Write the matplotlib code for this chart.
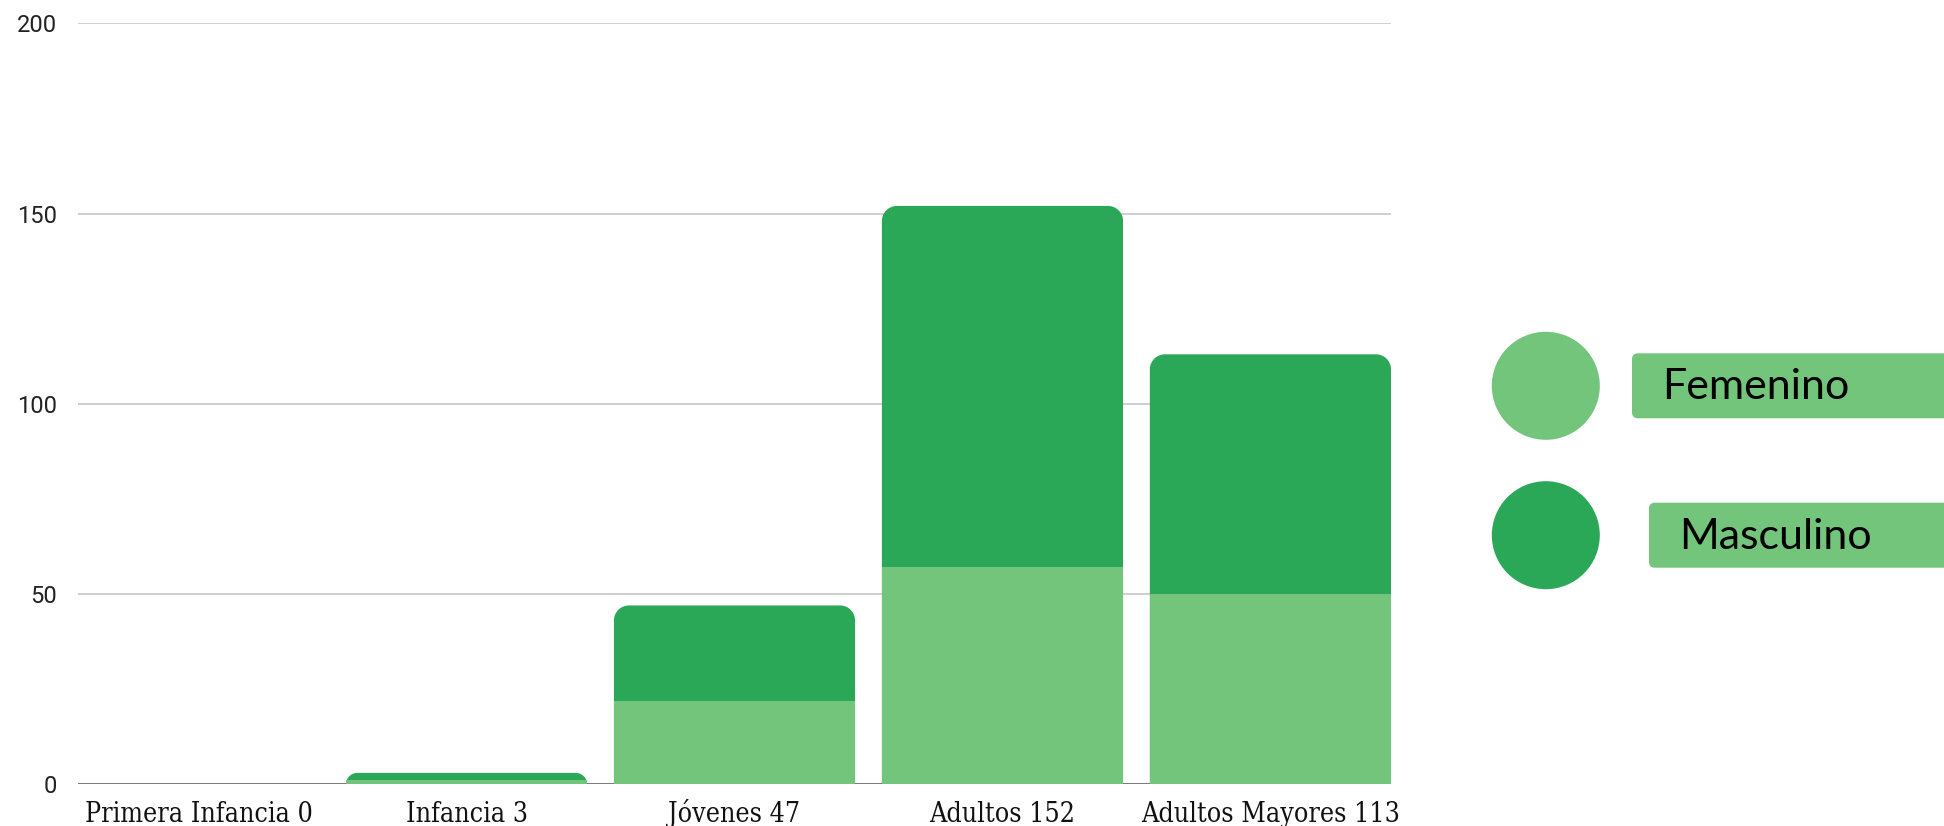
"""
plot.py
Poblacion por grupo de edad y sexo: barras apiladas con esquinas superiores redondeadas.
"""
import matplotlib
matplotlib.use("Agg")
from matplotlib import pyplot as plt
from matplotlib import font_manager
from matplotlib.path import Path
from matplotlib.patches import PathPatch, Circle, FancyBboxPatch
from matplotlib.textpath import TextPath

# Datos
categories = ['Primera Infancia', 'Infancia', 'Jóvenes', 'Adultos', 'Adultos Mayores']
femenino = [0, 1, 22, 57, 50]
masculino = [0, 2, 25, 95, 63]
series_names = ['Femenino', 'Masculino']
y_ticks = [0, 50, 100, 150, 200]

LIGHT_GREEN = '#72C57A'
DARK_GREEN = '#2AA757'

FIG_W, FIG_H, DPI = 1944, 826, 100
BAR_WIDTH = 0.9


def label_font():
    """
    Busca una serif condensada para las etiquetas del eje x; si no hay, usa Liberation Serif.
    """
    for entry in font_manager.fontManager.ttflist:
        if 'DejaVu Serif' in entry.name and entry.style == 'normal' and entry.weight in (400, 'normal'):
            if entry.stretch == 'condensed' or 'Condensed' in entry.name or 'Condensed' in entry.fname:
                return font_manager.FontProperties(fname=entry.fname)
    return font_manager.FontProperties(family='Liberation Serif')


def fit_size(text, prop, target_px):
    """
    Tamano de fuente (pt) para que el texto mida target_px de ancho.
    """
    width = TextPath((0, 0), text, size=1, prop=prop).get_extents().width
    return target_px * 72 / DPI / width


def rounded_top_bar(ax, x_center, width, top, radius_px, ux, uy, color):
    """
    Dibuja una barra desde 0 hasta top con las esquinas superiores redondeadas.
    """
    if top <= 0:
        return
    r = min(radius_px, top / uy)
    rx, ry = r * ux, r * uy
    k = 0.5523
    x0, x1 = x_center - width / 2, x_center + width / 2
    verts = [(x0, 0), (x0, top - ry),
             (x0, top - ry + k * ry), (x0 + rx - k * rx, top), (x0 + rx, top),
             (x1 - rx, top),
             (x1 - rx + k * rx, top), (x1, top - ry + k * ry), (x1, top - ry),
             (x1, 0), (x0, 0)]
    codes = [Path.MOVETO, Path.LINETO,
             Path.CURVE4, Path.CURVE4, Path.CURVE4,
             Path.LINETO,
             Path.CURVE4, Path.CURVE4, Path.CURVE4,
             Path.LINETO, Path.CLOSEPOLY]
    ax.add_patch(PathPatch(Path(verts, codes), facecolor=color, edgecolor='none', zorder=2))


def plot_chart():
    fig = plt.figure(figsize=(FIG_W / DPI, FIG_H / DPI), dpi=DPI)
    left_px, right_px, top_px, zero_px = 78, 1391, 23.3, 784.3
    ax = fig.add_axes([left_px / FIG_W, (FIG_H - zero_px) / FIG_H,
                       (right_px - left_px) / FIG_W, (zero_px - top_px) / FIG_H])

    x = list(range(len(categories)))
    totals = [f + m for f, m in zip(femenino, masculino)]
    ax.set_xlim(-BAR_WIDTH / 2, len(categories) - 1 + BAR_WIDTH / 2)
    ax.set_ylim(0, 200)

    ux = (ax.get_xlim()[1] - ax.get_xlim()[0]) / (right_px - left_px)
    uy = 200 / (zero_px - top_px)

    for xi, total in zip(x, totals):
        rounded_top_bar(ax, xi, BAR_WIDTH, total, 15, ux, uy, DARK_GREEN)
    ax.bar(x, femenino, width=BAR_WIDTH, color=LIGHT_GREEN, zorder=3)

    # Ejes y rejilla
    for side in ['top', 'right', 'left', 'bottom']:
        ax.spines[side].set_visible(False)
    ax.set_yticks(y_ticks)
    ax.yaxis.grid(True, color='#cccccc', linewidth=1.3, zorder=0)
    ax.set_axisbelow(True)
    ax.axhline(0, color='#6e6e6e', linewidth=1.2, zorder=1)
    ax.tick_params(axis='y', length=0, pad=15, labelsize=17, labelcolor='#222222')
    for lbl in ax.get_yticklabels():
        lbl.set_family('Roboto')

    prop = label_font()
    labels = [f'{c} {t}' for c, t in zip(categories, totals)]
    size = fit_size(labels[-1], prop, 256)
    ax.set_xticks(x)
    ax.set_xticklabels(labels, fontproperties=prop, va='baseline')
    ax.tick_params(axis='x', length=0, pad=27, labelsize=size, labelcolor='#111111')

    # Leyenda en pixeles de la figura
    leg = fig.add_axes([0, 0, 1, 1])
    leg.set_xlim(0, FIG_W)
    leg.set_ylim(FIG_H, 0)
    leg.axis('off')
    leg.patch.set_visible(False)
    circle_y = [385.8, 535.2]
    box_x = [1632, 1649]
    text_x = [1662, 1679]
    text_base = [399.3, 548.7]
    for name, color, cy, bx, tx, tb in zip(series_names, [LIGHT_GREEN, DARK_GREEN],
                                           circle_y, box_x, text_x, text_base):
        leg.add_patch(Circle((1545.8, cy), 54, facecolor=color, edgecolor='none'))
        leg.add_patch(FancyBboxPatch((bx, cy - 32.5), FIG_W + 20 - bx, 65,
                                     boxstyle='round,pad=0,rounding_size=6',
                                     facecolor=LIGHT_GREEN, edgecolor='none'))
        leg.text(tx, tb, name, ha='left', va='baseline', fontsize=31,
                 family='Lato', color='black')

    fig.savefig('out.png', dpi=DPI)


if __name__ == '__main__':
    plot_chart()
